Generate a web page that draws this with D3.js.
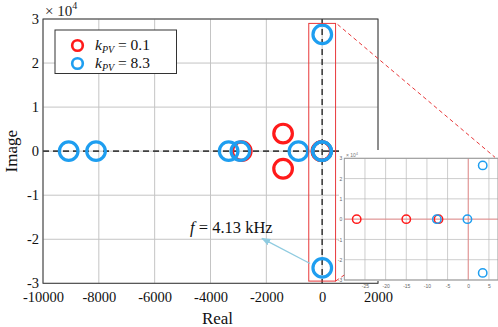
<!DOCTYPE html>
<html><head><meta charset="utf-8">
<script src="https://cdn.jsdelivr.net/npm/d3@7"></script>
<style>
html,body{margin:0;padding:0;background:#fff;}
svg{display:block;}
svg text{font-family:"Liberation Serif","Times New Roman",serif;}
svg text.sans{font-family:"Liberation Sans",Arial,sans-serif;}
</style></head>
<body>
<script>
// ---- data ----
const realK01 = [-1400, -1400, -2880, -27, -15, -7.2];
const imagK01 = [4000, -4000, 0, 0, 0, 0];
const realK83 = [-9080, -8100, -3350, -2930, -850, -7.6, -0.2, 3.5, 3.5];
const imagK83 = [0, 0, 0, 0, 0, 0, 0, 26500, -26500];
const seriesNames = ["0.1", "8.3"];
const xTicks = [-10000, -8000, -6000, -4000, -2000, 0, 2000];
const yTicks = [-30000, -20000, -10000, 0, 10000, 20000, 30000];
const insetXTicks = [-25, -20, -15, -10, -5, 0, 5];
const insetYTicks = [-30000, -20000, -10000, 0, 10000, 20000, 30000];
const annotation = "4.13 kHz";
const zoomBox = {x0: -480, x1: 480, y0: -29500, y1: 29000};

const RED = "#ff1a1a", BLUE = "#1e9ef0";
const W = 498, H = 327;
const svg = d3.select("body").append("svg").attr("width", W).attr("height", H);

// main plot
const L = 43, R = 378, T = 19, B = 283.3;
const x = d3.scaleLinear().domain([-10000, 2000]).range([L, R]);
const y = d3.scaleLinear().domain([-30000, 30000]).range([B, T]);

const g = svg.append("g");
// grid
g.selectAll(".gx").data(xTicks).join("line")
  .attr("x1", d => x(d)).attr("x2", d => x(d)).attr("y1", T).attr("y2", B)
  .attr("stroke", "#c4c4c4").attr("stroke-width", 1);
g.selectAll(".gy").data(yTicks).join("line")
  .attr("y1", d => y(d)).attr("y2", d => y(d)).attr("x1", L).attr("x2", R)
  .attr("stroke", "#c4c4c4").attr("stroke-width", 1);

// axes
const xAxis = d3.axisBottom(x).tickValues(xTicks).tickSize(0).tickPadding(8).tickFormat(d => String(d));
const yAxis = d3.axisLeft(y).tickValues(yTicks).tickSize(0).tickPadding(4).tickFormat(d => String(d / 10000));
const gx = g.append("g").attr("transform", `translate(0,${B})`).call(xAxis);
const gy = g.append("g").attr("transform", `translate(${L},0)`).call(yAxis);
[gx, gy].forEach(a => {
  a.attr("font-family", null).attr("font-size", null);
  a.select(".domain").remove();
  a.selectAll("text").style("font-family", "'Liberation Serif', serif").style("font-size", "14.5px").attr("fill", "#111");
});
// frame
g.append("rect").attr("x", L).attr("y", T).attr("width", R - L).attr("height", B - T)
  .attr("fill", "none").attr("stroke", "#3a3a3a").attr("stroke-width", 1);

// dashed zero lines
g.append("line").attr("x1", L).attr("x2", R).attr("y1", y(0)).attr("y2", y(0))
  .attr("stroke", "#404040").attr("stroke-width", 1.6).attr("stroke-dasharray", "6,4");
g.append("line").attr("x1", x(0)).attr("x2", x(0)).attr("y1", T).attr("y2", B)
  .attr("stroke", "#404040").attr("stroke-width", 1.6).attr("stroke-dasharray", "6,4");

// x10^4
const ex = svg.append("text").attr("x", 45).attr("y", 16).style("font-size", "15px").attr("fill", "#222");
ex.append("tspan").text("× 10");
ex.append("tspan").attr("dy", -7).style("font-size", "10px").text("4");

// axis labels
svg.append("text").attr("x", (L + R) / 2 + 7).attr("y", 324).attr("text-anchor", "middle")
  .style("font-size", "17px").attr("fill", "#111").text("Real");
svg.append("text").attr("transform", `translate(17,${(T + B) / 2}) rotate(-90)`).attr("text-anchor", "middle")
  .style("font-size", "17px").attr("fill", "#111").text("Image");

// markers
const redPts = realK01.map((r, i) => [r, imagK01[i]]);
const bluePts = realK83.map((r, i) => [r, imagK83[i]]);
g.selectAll(".mr").data(redPts).join("circle")
  .attr("cx", d => x(d[0])).attr("cy", d => y(d[1])).attr("r", 9.3)
  .attr("fill", "none").attr("stroke", RED).attr("stroke-width", 3.2);
g.selectAll(".mb").data(bluePts).join("circle")
  .attr("cx", d => x(d[0])).attr("cy", d => y(d[1])).attr("r", 9.3)
  .attr("fill", "none").attr("stroke", BLUE).attr("stroke-width", 3.2);

// legend
const lg = svg.append("g");
lg.append("rect").attr("x", 55).attr("y", 30).attr("width", 121.5).attr("height", 43.5)
  .attr("fill", "#fff").attr("stroke", "#333").attr("stroke-width", 1);
[[RED, 45.5, seriesNames[0]], [BLUE, 63.5, seriesNames[1]]].forEach(([c, cy, v]) => {
  lg.append("circle").attr("cx", 77.5).attr("cy", cy).attr("r", 5.3)
    .attr("fill", "none").attr("stroke", c).attr("stroke-width", 2.6);
  const t = lg.append("text").attr("x", 95).attr("y", cy + 4.8).style("font-size", "15.5px").attr("fill", "#111");
  t.append("tspan").attr("font-style", "italic").text("k");
  t.append("tspan").attr("font-style", "italic").style("font-size", "10px").attr("dy", 3).text("PV");
  t.append("tspan").attr("dy", -3).text(" = " + v);
});

// zoom rectangle
const zx0 = x(zoomBox.x0), zx1 = x(zoomBox.x1), zy0 = y(zoomBox.y1), zy1 = y(zoomBox.y0);
svg.append("rect").attr("x", zx0).attr("y", zy0).attr("width", zx1 - zx0).attr("height", zy1 - zy0)
  .attr("fill", "none").attr("stroke", "#e8383a").attr("stroke-width", 1);

// annotation
const at = svg.append("text").attr("x", 190).attr("y", 233).style("font-size", "16.5px").attr("fill", "#111");
at.append("tspan").attr("font-style", "italic").text("f");
at.append("tspan").text(" = " + annotation);
svg.append("defs").append("marker").attr("id", "ah").attr("viewBox", "0 0 10 10")
  .attr("refX", 9).attr("refY", 5).attr("markerWidth", 7).attr("markerHeight", 7).attr("orient", "auto")
  .append("path").attr("d", "M0,1 L10,5 L0,9 Z").attr("fill", "#8fcbe0");
svg.append("line").attr("x1", 310).attr("y1", 263.5).attr("x2", 262).attr("y2", 238.3)
  .attr("stroke", "#8fcbe0").attr("stroke-width", 1.3).attr("marker-end", "url(#ah)");

// ---- inset ----
const IL = 344.3, IR = 498, IT = 158.3, IB = 280;
const ix = d3.scaleLinear().domain([-30, 7.2]).range([IL, IR]);
const iy = d3.scaleLinear().domain([-30000, 30000]).range([IB, IT]);
const ig = svg.append("g");
ig.append("rect").attr("x", 339).attr("y", 150).attr("width", 160).attr("height", 131).attr("fill", "#fff");
ig.selectAll(".igx").data(insetXTicks).join("line")
  .attr("x1", d => ix(d)).attr("x2", d => ix(d)).attr("y1", IT).attr("y2", IB)
  .attr("stroke", "#b8b8b8").attr("stroke-width", 0.7);
ig.selectAll(".igy").data(insetYTicks).join("line")
  .attr("y1", d => iy(d)).attr("y2", d => iy(d)).attr("x1", IL).attr("x2", IR)
  .attr("stroke", "#b8b8b8").attr("stroke-width", 0.7);
ig.append("line").attr("x1", IL).attr("x2", IR).attr("y1", iy(0)).attr("y2", iy(0))
  .attr("stroke", "#f08080").attr("stroke-width", 0.8);
ig.append("line").attr("x1", ix(0)).attr("x2", ix(0)).attr("y1", IT).attr("y2", IB)
  .attr("stroke", "#f08080").attr("stroke-width", 0.8);
ig.append("rect").attr("x", IL).attr("y", IT).attr("width", IR - IL).attr("height", IB - IT)
  .attr("fill", "none").attr("stroke", "#999").attr("stroke-width", 1);
const ixa = ig.append("g").attr("transform", `translate(0,${IB})`)
  .call(d3.axisBottom(ix).tickValues(insetXTicks).tickSize(0).tickPadding(4).tickFormat(d => String(d)));
const iya = ig.append("g").attr("transform", `translate(${IL},0)`)
  .call(d3.axisLeft(iy).tickValues(insetYTicks).tickSize(0).tickPadding(2).tickFormat(d => String(d / 10000)));
[ixa, iya].forEach(a => {
  a.select(".domain").remove();
  a.selectAll("text").attr("class", "sans").style("font-size", "5px").attr("fill", "#666");
});
const iex = ig.append("text").attr("class", "sans").attr("x", 346).attr("y", 157).style("font-size", "5px").attr("fill", "#777");
iex.append("tspan").text("× 10");
iex.append("tspan").attr("dy", -2).style("font-size", "3.5px").text("4");

const inDom = d => d[0] >= -30 && d[0] <= 7.2;
ig.selectAll(".ir").data(redPts.filter(inDom)).join("circle")
  .attr("cx", d => ix(d[0])).attr("cy", d => iy(d[1])).attr("r", 4.2)
  .attr("fill", "none").attr("stroke", RED).attr("stroke-width", 1.5);
ig.selectAll(".ib").data(bluePts.filter(inDom)).join("circle")
  .attr("cx", d => ix(d[0])).attr("cy", d => iy(d[1])).attr("r", 4.2)
  .attr("fill", "none").attr("stroke", BLUE).attr("stroke-width", 1.5);

// connectors
svg.append("line").attr("x1", zx1 + 2).attr("y1", zy0 + 1).attr("x2", IR - 3).attr("y2", IT - 1)
  .attr("stroke", "#e8383a").attr("stroke-width", 1).attr("stroke-dasharray", "4,3");
svg.append("line").attr("x1", zx1).attr("y1", zy1).attr("x2", IL).attr("y2", IB - 5)
  .attr("stroke", "#e8383a").attr("stroke-width", 1).attr("stroke-dasharray", "4,3");
</script>
</body></html>
